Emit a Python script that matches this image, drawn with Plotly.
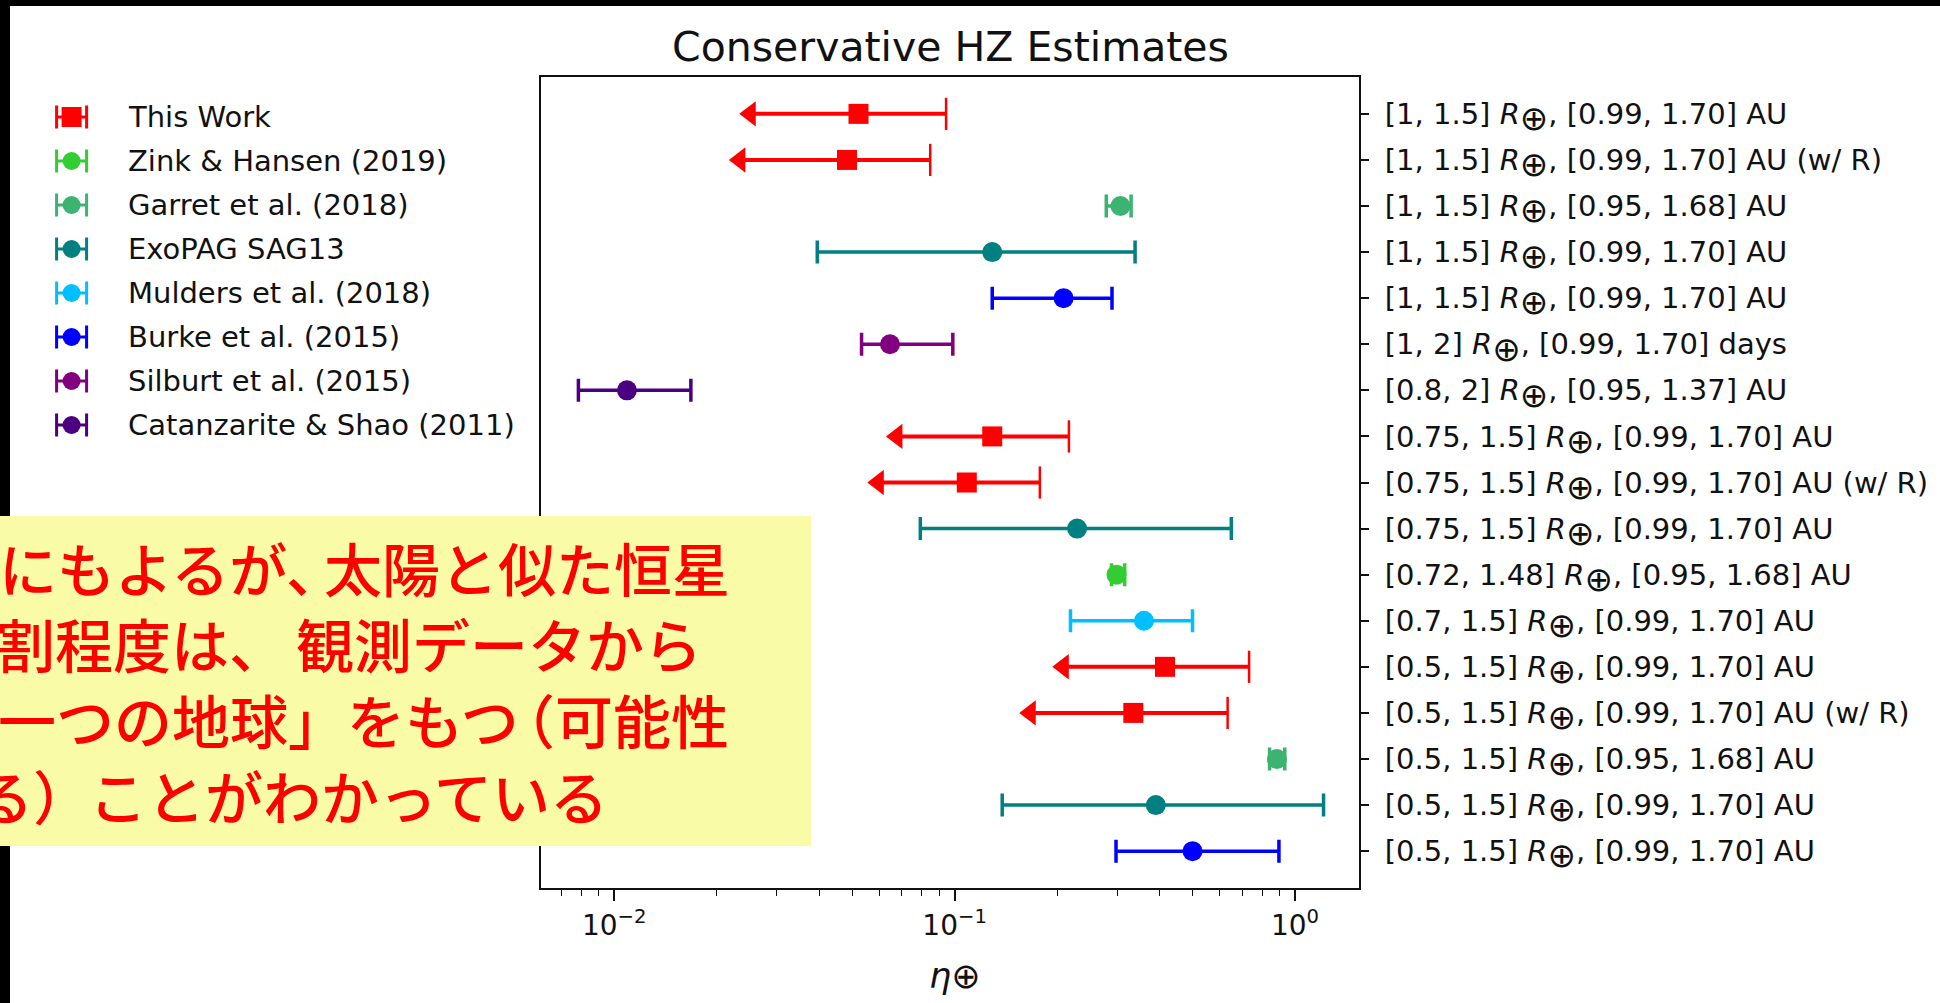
import plotly.graph_objects as go

W, H = 1940, 1003

# ---- data -------------------------------------------------------------
OPLUS = '<sub><span style="font-size:34px">⊕</span></sub>'
row_ranges = [
    ("[1, 1.5]", "[0.99, 1.70] AU"),
    ("[1, 1.5]", "[0.99, 1.70] AU (w/ R)"),
    ("[1, 1.5]", "[0.95, 1.68] AU"),
    ("[1, 1.5]", "[0.99, 1.70] AU"),
    ("[1, 1.5]", "[0.99, 1.70] AU"),
    ("[1, 2]", "[0.99, 1.70] days"),
    ("[0.8, 2]", "[0.95, 1.37] AU"),
    ("[0.75, 1.5]", "[0.99, 1.70] AU"),
    ("[0.75, 1.5]", "[0.99, 1.70] AU (w/ R)"),
    ("[0.75, 1.5]", "[0.99, 1.70] AU"),
    ("[0.72, 1.48]", "[0.95, 1.68] AU"),
    ("[0.7, 1.5]", "[0.99, 1.70] AU"),
    ("[0.5, 1.5]", "[0.99, 1.70] AU"),
    ("[0.5, 1.5]", "[0.99, 1.70] AU (w/ R)"),
    ("[0.5, 1.5]", "[0.95, 1.68] AU"),
    ("[0.5, 1.5]", "[0.99, 1.70] AU"),
    ("[0.5, 1.5]", "[0.99, 1.70] AU"),
]
row_labels = [f"{r} <i>R</i>{OPLUS}, {p}" for r, p in row_ranges]
row_source = [
    "This Work", "This Work", "Garret et al. (2018)", "ExoPAG SAG13",
    "Burke et al. (2015)", "Silburt et al. (2015)", "Catanzarite & Shao (2011)",
    "This Work", "This Work", "ExoPAG SAG13", "Zink & Hansen (2019)",
    "Mulders et al. (2018)", "This Work", "This Work", "Garret et al. (2018)",
    "ExoPAG SAG13", "Burke et al. (2015)",
]
eta_value = [0.0522, 0.0483, 0.307, 0.129, 0.209, 0.0646, 0.0109, 0.129, 0.1086,
             0.229, 0.299, 0.36, 0.415, 0.335, 0.885, 0.39, 0.50]
eta_low = [0.0251, 0.0234, 0.279, 0.0395, 0.129, 0.0533, 0.00785, 0.0677, 0.0597,
           0.0793, 0.289, 0.219, 0.2086, 0.1668, 0.842, 0.138, 0.298]
eta_high = [0.0944, 0.0848, 0.330, 0.339, 0.290, 0.0988, 0.0168, 0.2167, 0.178,
            0.650, 0.316, 0.50, 0.733, 0.634, 0.933, 1.213, 0.897]

sources = ["This Work", "Zink & Hansen (2019)", "Garret et al. (2018)", "ExoPAG SAG13",
           "Mulders et al. (2018)", "Burke et al. (2015)", "Silburt et al. (2015)",
           "Catanzarite & Shao (2011)"]
source_colors = ["#ff0000", "#32cd32", "#3cb371", "#008080",
                 "#00bfff", "#0000ff", "#800080", "#4b0082"]

# note text as runs (text, left px) so the punctuation sits tight
note_runs = [
    [("にもよるが、", -2), ("太陽と似た恒星", 323)],
    [("割程度は、", -4), ("観測データから", 295)],
    [("一つの地球」", -3), ("をもつ", 346), ("（可能性", 496)],
    [("る）", -26), ("ことがわかっている", 88)],
]
note_y = [567, 643, 719, 795]


# ---- helpers (pixel -> paper) ------------------------------------------
def px(x):
    return x / W


def py(y):
    return 1 - y / H


FONT = "DejaVu Sans"
INK = "#111111"
rows = list(range(len(row_labels)))

fig = go.Figure()

# --- two-sided estimates: markers with error bars
for name, col in zip(sources, source_colors):
    if name == "This Work":
        continue
    idx = [i for i in rows if row_source[i] == name]
    fig.add_trace(go.Scatter(
        x=[eta_value[i] for i in idx], y=idx, mode="markers",
        marker=dict(symbol="circle", size=20, color=col),
        error_x=dict(type="data", symmetric=False,
                     array=[eta_high[i] - eta_value[i] for i in idx],
                     arrayminus=[eta_value[i] - eta_low[i] for i in idx],
                     color=col, thickness=3.5, width=11.5),
        showlegend=False, xaxis="x", yaxis="y",
    ))

# --- "This Work": bars with a left arrow at the lower end
tw = [i for i in rows if row_source[i] == "This Work"]
lx, ly = [], []
for i in tw:
    lx += [eta_low[i], eta_high[i], None]
    ly += [i, i, None]
fig.add_trace(go.Scatter(x=lx, y=ly, mode="lines", line=dict(color="#ff0000", width=4),
                         showlegend=False, xaxis="x", yaxis="y"))
fig.add_trace(go.Scatter(
    x=[eta_high[i] for i in tw], y=tw, mode="markers",
    marker=dict(symbol="line-ns", size=23, line=dict(color="#ff0000", width=2.5)),
    showlegend=False, xaxis="x", yaxis="y"))
fig.add_trace(go.Scatter(
    x=[eta_low[i] for i in tw], y=tw, mode="markers",
    marker=dict(symbol="triangle-left", size=22, color="#ff0000"),
    showlegend=False, xaxis="x", yaxis="y"))
fig.add_trace(go.Scatter(
    x=[eta_value[i] for i in tw], y=tw, mode="markers",
    marker=dict(symbol="square", size=20, color="#ff0000"),
    showlegend=False, xaxis="x", yaxis="y"))

# --- legend keys (drawn on a hidden pixel-unit axis pair)
leg_x, leg_y0, leg_dy = 71.6, 117, 44.0
for k, (name, col) in enumerate(zip(sources, source_colors)):
    fig.add_trace(go.Scatter(
        x=[leg_x], y=[leg_y0 + k * leg_dy], mode="markers",
        marker=dict(symbol="square" if name == "This Work" else "circle",
                    size=20 if name == "This Work" else 18, color=col),
        error_x=dict(type="constant", value=15, color=col, thickness=3, width=11.5),
        showlegend=False, xaxis="x2", yaxis="y2", hoverinfo="skip",
    ))

annotations = []
for k, name in enumerate(sources):
    annotations.append(dict(
        x=px(126), y=py(leg_y0 + k * leg_dy), xref="paper", yref="paper",
        xanchor="left", yanchor="middle", text=name, showarrow=False,
        font=dict(family=FONT, size=29, color=INK)))

annotations.append(dict(
    x=px(950), y=py(47), xref="paper", yref="paper", xanchor="center", yanchor="middle",
    text="Conservative HZ Estimates", showarrow=False,
    font=dict(family=FONT, size=41, color=INK)))
annotations.append(dict(
    x=px(955), y=py(976), xref="paper", yref="paper", xanchor="center", yanchor="middle",
    text="<i>η</i>⊕", showarrow=False, font=dict(family=FONT, size=35, color=INK)))

# --- Japanese note
for runs, y0 in zip(note_runs, note_y):
    for t, x0 in runs:
        annotations.append(dict(
            x=px(x0), y=py(y0), xref="paper", yref="paper", xanchor="left",
            yanchor="middle", text=t, showarrow=False, borderpad=0,
            font=dict(family="Noto Sans CJK JP", size=58, color="#ff0000", weight=500)))

shapes = [
    dict(type="rect", xref="paper", yref="paper", x0=0, x1=1, y0=py(6), y1=1,
         fillcolor="black", line=dict(width=0), layer="above"),
    dict(type="rect", xref="paper", yref="paper", x0=0, x1=px(10), y0=0, y1=1,
         fillcolor="black", line=dict(width=0), layer="above"),
    dict(type="rect", xref="paper", yref="paper", x0=0, x1=px(811), y0=py(846), y1=py(516),
         fillcolor="#f9fba7", line=dict(width=0), layer="above"),
]

fig.update_layout(
    width=W, height=H,
    margin=dict(l=0, r=0, t=0, b=0, autoexpand=False),
    paper_bgcolor="white", plot_bgcolor="white",
    showlegend=False,
    xaxis=dict(
        type="log", range=[-2.215, 0.188], domain=[px(541), px(1359)], anchor="y",
        tickmode="array", tickvals=[0.01, 0.1, 1],
        ticktext=["10<sup>−2</sup>", "10<sup>−1</sup>", "10<sup>0</sup>"],
        ticks="outside", ticklen=11, tickwidth=1.8, tickcolor=INK,
        minor=dict(ticks="outside", ticklen=6, tickwidth=1.3, tickcolor=INK,
                   dtick="D1", showgrid=False),
        showgrid=False, zeroline=False, showline=True, mirror=True,
        linecolor=INK, linewidth=2,
        tickfont=dict(family=FONT, size=28, color=INK),
    ),
    yaxis=dict(
        range=[16.8, -0.8], domain=[py(888), py(77)], anchor="x", side="right",
        tickmode="array", tickvals=rows, ticktext=row_labels,
        ticks="outside", ticklen=8, tickwidth=1.8, tickcolor=INK,
        ticklabelstandoff=10,
        showgrid=False, zeroline=False, showline=True, mirror=True,
        linecolor=INK, linewidth=2,
        tickfont=dict(family=FONT, size=29, color=INK),
    ),
    xaxis2=dict(domain=[0, 0.25], range=[0, 485], anchor="y2", visible=False,
                fixedrange=True),
    yaxis2=dict(domain=[0, 1], range=[H, 0], anchor="x2", visible=False, fixedrange=True),
    annotations=annotations,
    shapes=shapes,
)

fig.write_html("out.html", config={"displayModeBar": False})
